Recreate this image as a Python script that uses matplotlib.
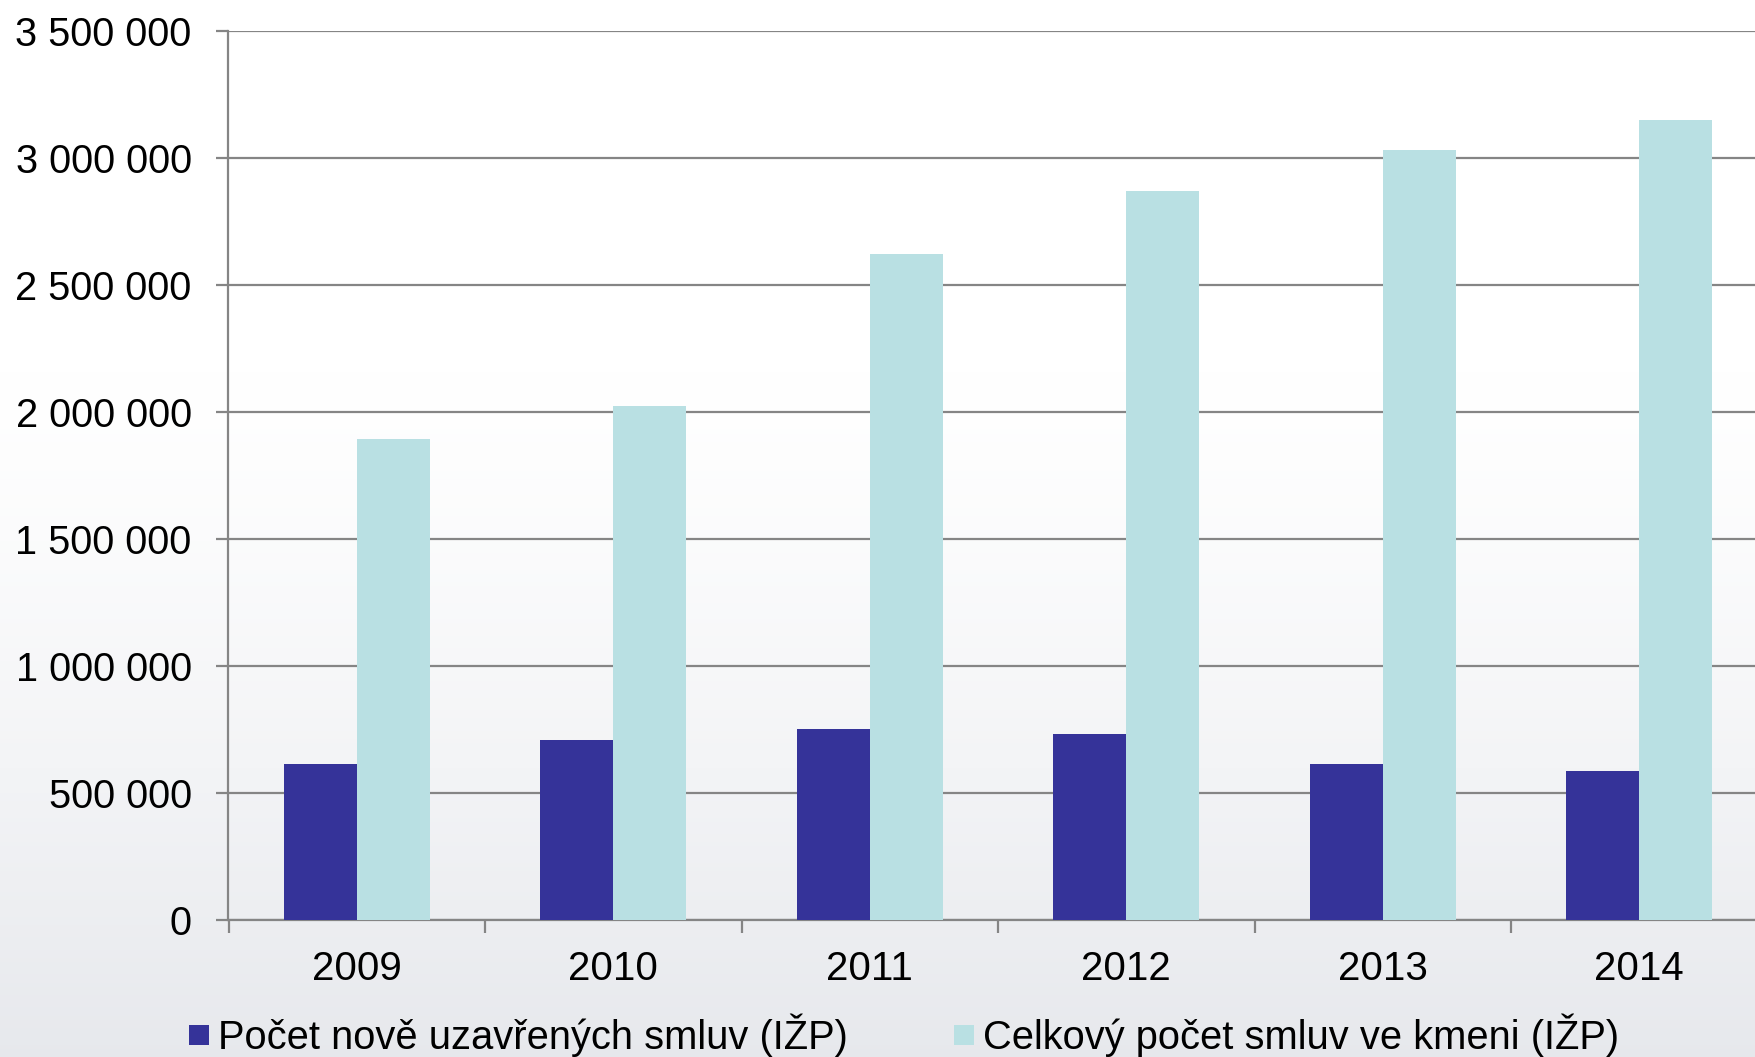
import numpy as np
import matplotlib
matplotlib.use("Agg")
import matplotlib.pyplot as plt
from matplotlib.lines import Line2D
from matplotlib.ticker import FuncFormatter, FixedLocator

plt.rcParams['font.family'] = ['Liberation Sans', 'DejaVu Sans']

years = ['2009', '2010', '2011', '2012', '2013', '2014']
new_contracts = [615000, 709000, 753000, 730000, 614000, 584000]
total_contracts = [1894000, 2026000, 2622000, 2872000, 3032000, 3151000]
series_labels = ['Počet nově uzavřených smluv (IŽP)',
                 'Celkový počet smluv ve kmeni (IŽP)']
y_ticks = [0, 500000, 1000000, 1500000, 2000000, 2500000, 3000000, 3500000]

NAVY = '#353399'
TEAL = '#B9E0E3'
GRID = '#858585'

W, H = 1756, 1057
fig = plt.figure(figsize=(W / 100, H / 100), dpi=100)

# soft vertical background gradient (white at top, pale grey at the bottom)
bg = fig.add_axes([0, 0, 1, 1], zorder=-10)
grad = np.linspace(0, 1, 256)[:, None]
top = np.array([1.0, 1.0, 1.0])
bottom = np.array([0.905, 0.912, 0.928])
shade = np.clip((grad - 0.35) / 0.65, 0, 1) ** 1.3
img = top[None, None, :] * (1 - shade[..., None]) + bottom[None, None, :] * shade[..., None]
bg.imshow(np.repeat(img, 4, axis=1), aspect='auto', extent=[0, 1, 0, 1], origin='upper')
bg.set_axis_off()

left = 228.5 / W
bottom_y = (H - 919.7) / H
top_y = (H - 31.4) / H
ax = fig.add_axes([left, bottom_y, 1 - left, top_y - bottom_y])
ax.patch.set_alpha(0)

x = np.arange(len(years))
bw = 0.284
ax.bar(x - bw / 2, new_contracts, width=bw, color=NAVY, zorder=3, label=series_labels[0])
ax.bar(x + bw / 2, total_contracts, width=bw, color=TEAL, zorder=3, label=series_labels[1])

cat_w = 256.5
ax.set_xlim(-0.5, -0.5 + (W - 228.5) / cat_w)
ax.set_ylim(0, 3500000)

ax.yaxis.set_major_locator(FixedLocator(y_ticks))
ax.yaxis.set_major_formatter(FuncFormatter(lambda v, p: f"{v:,.0f}".replace(",", " ")))
ax.yaxis.grid(True, color=GRID, linewidth=1.6, zorder=1)
ax.set_axisbelow(True)

ax.set_xticks(x)
ax.set_xticklabels(years)
ax.xaxis.set_minor_locator(FixedLocator(np.arange(-0.5, len(years) + 0.5, 1.0)))

for side in ['top', 'right']:
    ax.spines[side].set_visible(False)
for side in ['left', 'bottom']:
    ax.spines[side].set_color(GRID)
    ax.spines[side].set_linewidth(1.6)

ax.tick_params(axis='y', which='major', length=8.5, width=1.6, color=GRID,
               labelsize=28.6, pad=18, labelcolor='black')
ax.tick_params(axis='x', which='major', length=0, labelsize=29, pad=21.5,
               labelcolor='black')
ax.tick_params(axis='x', which='minor', length=9, width=1.6, color=GRID)

handles = [Line2D([], [], marker='s', ls='', color=NAVY, markersize=15, markeredgewidth=0),
           Line2D([], [], marker='s', ls='', color=TEAL, markersize=15, markeredgewidth=0)]
fig.legend(handles, series_labels, loc='center left',
           bbox_to_anchor=(188 / W, 1 - 1035 / H), ncol=2, frameon=False,
           fontsize=28.7, handlelength=0.55, handletextpad=0.2, columnspacing=2.65,
           borderpad=0, borderaxespad=0)

fig.savefig('out.png', dpi=100)
